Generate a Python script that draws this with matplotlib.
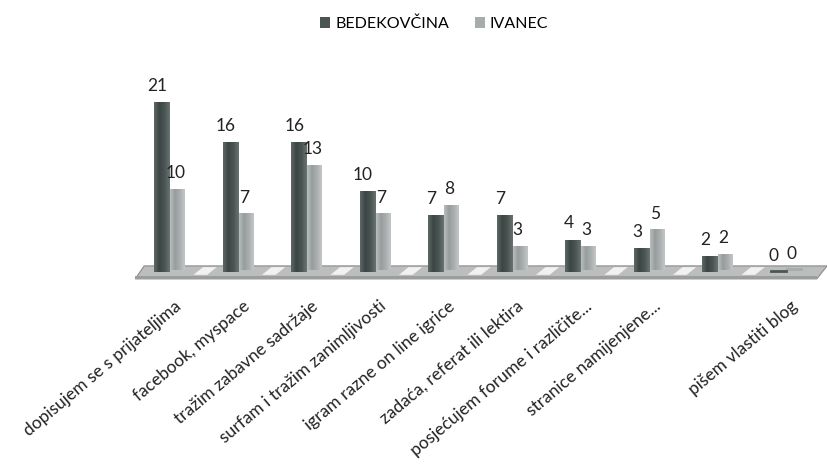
import numpy as np
import matplotlib.pyplot as plt
from matplotlib.patches import Polygon
from matplotlib.colors import LinearSegmentedColormap
import matplotlib.transforms as mtransforms

plt.rcParams["font.family"] = ["Lato", "DejaVu Sans"]

# data
categories = [
    "dopisujem se s prijateljima",
    "facebook, myspace",
    "tražim zabavne sadržaje",
    "surfam i tražim zanimljivosti",
    "igram razne on line igrice",
    "zadaća, referat ili lektira",
    "posjećujem forume i različite...",
    "stranice namijenjene...",
    "",
    "pišem vlastiti blog",
]
bedekovcina = [21, 16, 16, 10, 7, 7, 4, 3, 2, 0]
ivanec = [10, 7, 13, 7, 8, 3, 3, 5, 2, 0]
series_names = ["BEDEKOVČINA", "IVANEC"]

dark = "#4b5654"
light = "#a7acac"

fig = plt.figure(figsize=(8.27, 4.72), dpi=100)
ax = fig.add_axes([0.1594, 0.4066, 0.8407, 0.429])
ax.set_xlim(-0.55, 9.6)
ax.set_ylim(-1, 24)
ax.axis("off")

x = np.arange(len(bedekovcina))
off = 0.115
w = 0.22

# floor
floor = Polygon(
    [(-0.5, -0.85), (9.45, -0.85), (9.6, 0.75), (-0.37, 0.75)],
    closed=True, facecolor="#bcbebe", edgecolor="#8a8c8c", linewidth=0.8, zorder=1,
)
ax.add_patch(floor)
ax.fill_between([-0.5, 9.45], -0.85, -0.45, color="#9c9e9e", zorder=1.1, linewidth=0)
for i in x[:-1]:
    cx = i + 0.52
    ax.add_patch(Polygon(
        [(cx - 0.17, -0.35), (cx + 0.03, -0.35), (cx + 0.17, 0.6), (cx - 0.03, 0.6)],
        closed=True, facecolor="white", edgecolor="none", alpha=0.8, zorder=1.2,
    ))

cmap_dark = LinearSegmentedColormap.from_list("d", ["#5d6866", "#3c4544", "#4a5553", "#69736f"])
cmap_light = LinearSegmentedColormap.from_list("l", ["#b9bdbd", "#979c9c", "#a9aeae", "#c4c7c7"])
grad = np.linspace(0, 1, 64).reshape(1, -1)

bars1 = ax.bar(x - off, bedekovcina, w, color=dark, label=series_names[0], zorder=3)
bars2 = ax.bar(x + off, ivanec, w * 0.95, bottom=0.25, color=light, label=series_names[1], zorder=2)

for bars, cmap, z in [(bars1, cmap_dark, 3.1), (bars2, cmap_light, 2.1)]:
    for b in bars:
        bx, by = b.get_x(), b.get_y()
        bw, bh = b.get_width(), b.get_height()
        if bh <= 0:
            ax.plot([bx, bx + bw], [by + 0.1, by + 0.1], color=b.get_facecolor(), lw=2, zorder=z)
            continue
        im = ax.imshow(grad, cmap=cmap, extent=[bx, bx + bw, by, by + bh],
                       aspect="auto", zorder=z)
        im.set_clip_path(b)

# value labels
for i in x:
    ax.text(i - off - 0.06, bedekovcina[i] + 1.0, str(bedekovcina[i]),
            ha="center", va="bottom", fontsize=12.5, color="#222222", zorder=5)
    ax.text(i + off - 0.03, ivanec[i] + 1.2, str(ivanec[i]),
            ha="center", va="bottom", fontsize=12.5, color="#222222", zorder=5)

# category labels
trans = mtransforms.blended_transform_factory(ax.transData, fig.transFigure)
for i, lab in enumerate(categories):
    ax.text(i + 0.06, 1 - 298 / 472, lab, transform=trans,
            ha="right", va="top", rotation=40, rotation_mode="anchor",
            fontsize=12.5, color="#222222")

fig.legend(
    handles=[bars1, bars2], labels=series_names,
    loc="upper center", bbox_to_anchor=(0.525, 0.995), ncol=2,
    frameon=False, fontsize=11.5, handlelength=0.65, handleheight=0.65,
    handletextpad=0.3, columnspacing=1.6,
)

fig.savefig("out.png", dpi=100)
